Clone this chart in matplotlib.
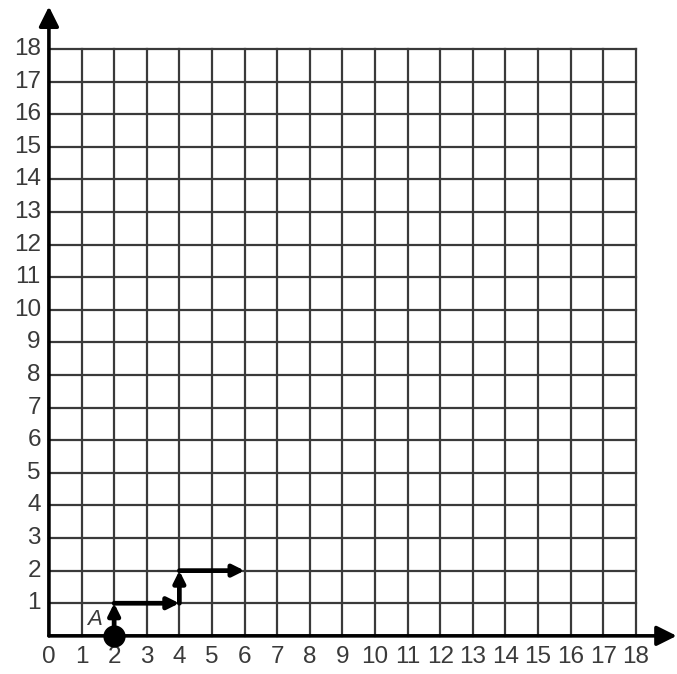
import numpy as np
import matplotlib.pyplot as plt

plt.rcParams['font.family'] = ['Liberation Sans', 'DejaVu Sans']

# grid extent and labels
n_max = 18
x_labels = [str(i) for i in range(0, 19)]
y_labels = [str(i) for i in range(1, 19)]

# path of the moves starting at point A
path_x = [2, 2, 4, 4, 6]
path_y = [0, 1, 1, 2, 2]
start_label = 'A'

fig = plt.figure(figsize=(6.77, 6.74), dpi=100)
ax = fig.add_axes([0, 0, 1, 1])
ax.set_xlim(-1.5, 19.26)
ax.set_ylim(-1.17, 19.5)
ax.axis('off')

grid_col = '#3a3a3a'
for i in range(1, n_max + 1):
    ax.plot([i, i], [0, n_max], color=grid_col, lw=1.6, zorder=1)
    ax.plot([0, n_max], [i, i], color=grid_col, lw=1.6, zorder=1)

# axes with arrow heads
ax.annotate('', xy=(19.25, 0), xytext=(0, 0),
            arrowprops=dict(arrowstyle='-|>', color='black', lw=2.6,
                            mutation_scale=30, shrinkA=0, shrinkB=0), zorder=3)
ax.annotate('', xy=(0, 19.3), xytext=(0, 0),
            arrowprops=dict(arrowstyle='-|>', color='black', lw=2.6,
                            mutation_scale=30, shrinkA=0, shrinkB=0), zorder=3)

# tick labels
for i, lab in enumerate(x_labels):
    ax.text(i, -0.65, lab, ha='center', va='center', fontsize=17.5, color='#3a3a3a')
for i, lab in enumerate(y_labels):
    ax.text(-0.25, i + 1, lab, ha='right', va='center', fontsize=17.5, color='#3a3a3a')

# path segments with arrow heads
for k in range(len(path_x) - 1):
    ax.annotate('', xy=(path_x[k + 1], path_y[k + 1]), xytext=(path_x[k], path_y[k]),
                arrowprops=dict(arrowstyle='-|>', color='black', lw=3.4,
                                mutation_scale=17, shrinkA=0, shrinkB=0), zorder=4)

ax.plot(path_x[0], path_y[0], 'o', color='black', markersize=15, zorder=5)
ax.text(path_x[0] - 0.6, path_y[0] + 0.5, start_label, ha='center', va='center',
        fontsize=16, style='italic', color='#3a3a3a')

fig.savefig('out.png', dpi=100)
